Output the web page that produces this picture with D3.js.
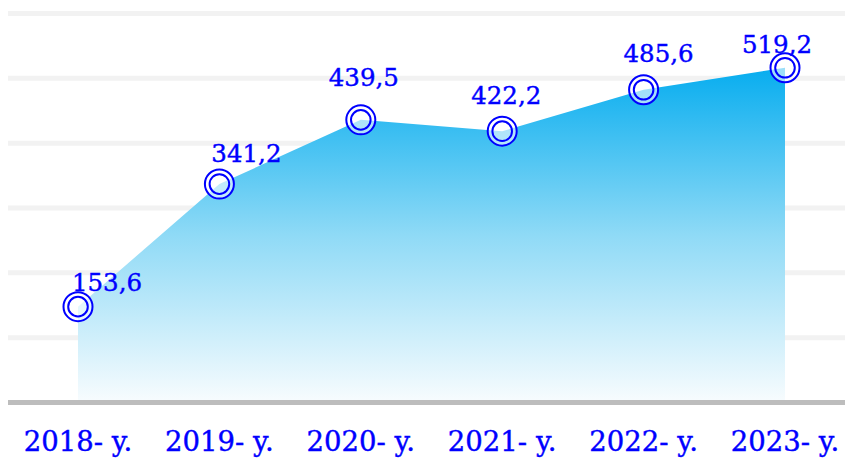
<!DOCTYPE html>
<html>
<head>
<meta charset="utf-8">
<script src="https://cdn.jsdelivr.net/npm/d3@7"></script>
<style>
    body { margin: 0; background: #fff; }
    text { font-family: "DejaVu Serif", serif; }
</style>
</head>
<body>
<div id="chart"></div>
<script>
// Data
const years = ['2018- y.', '2019- y.', '2020- y.', '2021- y.', '2022- y.', '2023- y.'];
const values = [153.6, 341.2, 439.5, 422.2, 485.6, 519.2];
const valueLabels = ['153,6', '341,2', '439,5', '422,2', '485,6', '519,2'];

// Label nudges (layout, px) so the numbers sit clear of the area edge
const labelDx = [29, 27, 3, 4, 15, -8];
const labelDy = [-16, -22, -34, -27, -28, -15];

const width = 845, height = 459;
const gridRows = 6;
const axisY = 402.5;

const svg = d3.select('#chart')
    .append('svg')
    .attr('width', width)
    .attr('height', height);

// Scales
const xScale = d3.scalePoint()
    .domain(years)
    .range([78, 785]);
const yScale = d3.scaleLinear()
    .domain([0, 600])
    .range([407, 15]);
const gridScale = d3.scaleLinear()
    .domain([0, gridRows])
    .range([axisY, 13.5]);

// Gradient for the area
const defs = svg.append('defs');
const grad = defs.append('linearGradient')
    .attr('id', 'areaGrad')
    .attr('gradientUnits', 'userSpaceOnUse')
    .attr('x1', 0).attr('x2', 0)
    .attr('y1', yScale(d3.max(values))).attr('y2', axisY);
grad.append('stop').attr('offset', 0).attr('stop-color', '#07adef');
grad.append('stop').attr('offset', 0.5).attr('stop-color', '#8fdaf6');
grad.append('stop').attr('offset', 1).attr('stop-color', '#f8fcfe');

// Gridlines
svg.append('g')
    .selectAll('line')
    .data(d3.range(1, gridRows + 1))
    .join('line')
    .attr('x1', 8).attr('x2', width)
    .attr('y1', d => gridScale(d)).attr('y2', d => gridScale(d))
    .attr('stroke', '#f2f2f2')
    .attr('stroke-width', 5);

// Area
const area = d3.area()
    .x((d, i) => xScale(years[i]))
    .y0(axisY)
    .y1(d => yScale(d));
svg.append('path')
    .datum(values)
    .attr('d', area)
    .attr('fill', 'url(#areaGrad)');

// Baseline axis
svg.append('line')
    .attr('x1', 8).attr('x2', width)
    .attr('y1', gridScale(0)).attr('y2', gridScale(0))
    .attr('stroke', '#bdbdbd')
    .attr('stroke-width', 5);

// Markers: double ring
const markers = svg.append('g')
    .selectAll('g')
    .data(values)
    .join('g')
    .attr('transform', (d, i) => `translate(${xScale(years[i])}, ${yScale(d)})`);
markers.append('circle')
    .attr('r', 14.5)
    .attr('fill', 'rgba(255,255,255,0.6)')
    .attr('stroke', '#0000ff')
    .attr('stroke-width', 2);
markers.append('circle')
    .attr('r', 9.8)
    .attr('fill', 'none')
    .attr('stroke', '#0000ff')
    .attr('stroke-width', 2);

// Value labels
svg.append('g')
    .selectAll('text')
    .data(values)
    .join('text')
    .text((d, i) => valueLabels[i])
    .attr('x', (d, i) => xScale(years[i]) + labelDx[i])
    .attr('y', (d, i) => yScale(d) + labelDy[i])
    .attr('text-anchor', 'middle')
    .attr('font-size', 24.5)
    .attr('fill', '#0000ff')
    .attr('stroke', '#0000ff')
    .attr('stroke-width', 0.4);

// X-axis labels
svg.append('g')
    .selectAll('text')
    .data(years)
    .join('text')
    .text(d => d)
    .attr('x', d => xScale(d))
    .attr('y', 451)
    .attr('text-anchor', 'middle')
    .attr('font-size', 27.5)
    .attr('fill', '#0000ff')
    .attr('stroke', '#0000ff')
    .attr('stroke-width', 0.4);
</script>
</body>
</html>
